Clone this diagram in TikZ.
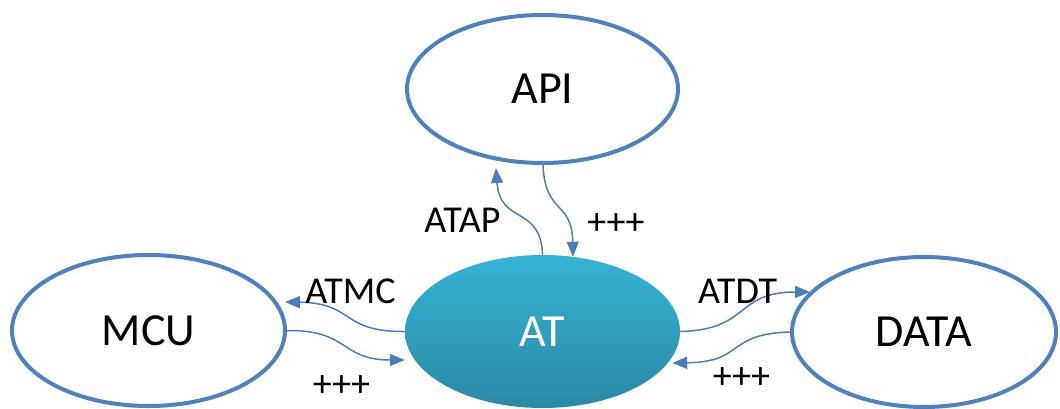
\documentclass[tikz,border=0pt]{standalone}
\usepackage{fontspec}
\setmainfont{Carlito}
\usetikzlibrary{shapes.geometric,arrows.meta,calc}
\definecolor{edgeblue}{RGB}{79,129,189}
\definecolor{arrowblue}{RGB}{74,126,187}
\definecolor{attop}{RGB}{54,178,212}
\definecolor{atbot}{RGB}{42,138,165}
\begin{document}
\begin{tikzpicture}[x=1pt,y=-1pt,
  bubble/.style={ellipse, draw=edgeblue, line width=4pt, fill=white, inner sep=0pt, font=\fontsize{46}{50}\selectfont},
  core/.style={ellipse, inner sep=0pt, top color=attop, bottom color=atbot, text=white, font=\fontsize{46}{50}\selectfont},
  flow/.style={draw=arrowblue, line width=1.5pt, -{Triangle[length=15pt,width=12pt]}},
  lbl/.style={font=\fontsize{38}{42}\selectfont, inner sep=0pt}]
\useasboundingbox (0,0) rectangle (1060,409);

\node[bubble, minimum width=271pt, minimum height=148pt] (API) at (542.5,89) {API};
\node[bubble, minimum width=273pt, minimum height=151pt] (MCU) at (148.5,330.5) {\raisebox{-2.5pt}{MCU}};
\node[bubble, minimum width=264pt, minimum height=150pt] (DATA) at (924,332) {DATA};
\node[core, minimum width=275pt, minimum height=153pt] (AT) at (542.5,331.5) {\raisebox{-1.5pt}{AT}};

\draw[flow] (AT.north) .. controls (541,205) and (500,225) .. ([shift={(-46.5,3)}]API.south);
\draw[flow] ([shift={(0.5,0)}]API.south) .. controls (545,215) and (572,200) .. ([shift={(30.5,2)}]AT.north);
\draw[flow] (AT.west) .. controls (340,332) and (355,303) .. ([shift={(-2,-28.5)}]MCU.east);
\draw[flow] (MCU.east) .. controls (350,330) and (340,360) .. ([shift={(0,28.5)}]AT.west);
\draw[flow] (AT.east) .. controls (750,330) and (735,292) .. ([shift={(20,-40)}]DATA.west);
\draw[flow] (DATA.west) .. controls (725,334) and (745,362) .. ([shift={(-8,31.5)}]AT.east);

\node[lbl, anchor=base] (lATAP) at (462.5,232) {ATAP};
\node[lbl, anchor=base] (lATMC) at (350.5,303) {ATMC};
\node[lbl, anchor=base] (lATDT) at (737.5,303) {ATDT};
\node[lbl] (pAPI) at (616,224) {+++};
\node[lbl] (pMCU) at (341.5,386) {+++};
\node[lbl] (pDATA) at (741.5,378) {+++};
\end{tikzpicture}
\end{document}
